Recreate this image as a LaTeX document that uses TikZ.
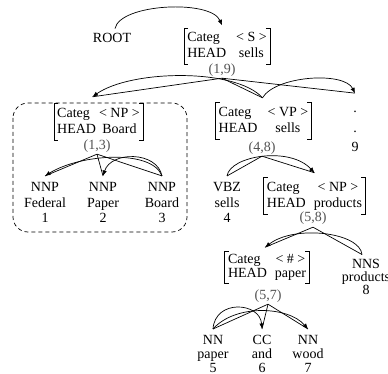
\documentclass[tikz,border=0pt]{standalone}
\usepackage{fontspec}
\setmainfont{Liberation Serif}
\usetikzlibrary{arrows.meta}
\newcommand\fsbox[3]{\begin{tabular}{@{}l@{\hspace{#1}}c@{}}Categ & #2\\HEAD & #3\end{tabular}}
\newcommand\leaftext[3]{\begin{tabular}[t]{@{}c@{}}#1\\#2\\#3\end{tabular}}
\newcommand\brackets[1]{%
  \draw[brk] ([xshift=4pt]#1.north west) -- (#1.north west) -- (#1.south west) -- ([xshift=4pt]#1.south west);
  \draw[brk] ([xshift=-4pt]#1.north east) -- (#1.north east) -- (#1.south east) -- ([xshift=-4pt]#1.south east);}
\begin{document}
\begin{tikzpicture}[x=1pt,y=-1pt,
  txt/.style={font=\fontsize{14}{16}\selectfont, inner sep=0pt},
  fs/.style={txt, inner xsep=3pt, inner ysep=2pt},
  leafnode/.style={inner sep=0pt, inner ysep=5pt, font=\fontsize{14}{15.5}\selectfont, anchor=base},
  span/.style={txt, text=black!68, anchor=base},
  tree/.style={line width=0.7pt},
  dep/.style={line width=0.7pt, -{Latex[length=5.5pt,width=4.5pt]}},
  brk/.style={line width=0.7pt},
  box/.style={line width=0.7pt, dash pattern=on 4pt off 3pt, rounded corners=15pt}]
\useasboundingbox (0,0) rectangle (388,374);

% nodes
\node[txt, anchor=base] (root) at (112,43) {ROOT};
\node[fs] (S) at (227,46.5) {\fsbox{10pt}{< S >}{sells}};
\node[span] (l19) at (222,74) {(1,9)};

\node[fs] (npb) at (98.5,122) {\fsbox{3pt}{< NP >}{Board}};
\node[span] (l13) at (97,150) {(1,3)};
\node[fs] (vp) at (263.5,121) {\fsbox{10pt}{< VP >}{sells}};
\node[span] (l48) at (262,152) {(4,8)};
\node[leafnode, font=\fontsize{14}{19.5}\selectfont] (dot) at (355,113) {\leaftext{.}{.}{9}};

\node[leafnode] (w1) at (45,192) {\leaftext{NNP}{Federal}{1}};
\node[leafnode] (w2) at (103,192) {\leaftext{NNP}{Paper}{2}};
\node[leafnode] (w3) at (162,192) {\leaftext{NNP}{Board}{3}};
\node[leafnode] (w4) at (227,192) {\leaftext{VBZ}{sells}{4}};
\node[fs] (npp) at (314.5,196) {\fsbox{8pt}{< NP >}{products}};
\node[span] (l58) at (313,222) {(5,8)};

\node[fs, font=\fontsize{14}{14}\selectfont] (hash) at (267,267.5) {\fsbox{8pt}{< \# >}{paper}};
\node[span] (l57) at (268,299) {(5,7)};
\node[leafnode, font=\fontsize{14}{12.8}\selectfont] (w8) at (366,268) {\leaftext{NNS}{products}{8}};

\node[leafnode, font=\fontsize{14}{14}\selectfont] (w5) at (213,344) {\leaftext{NN}{paper}{5}};
\node[leafnode, font=\fontsize{14}{14}\selectfont] (w6) at (262,344) {\leaftext{CC}{and}{6}};
\node[leafnode, font=\fontsize{14}{14}\selectfont] (w7) at (308,344) {\leaftext{NN}{wood}{7}};

% brackets
\brackets{S}
\brackets{npb}
\brackets{vp}
\brackets{npp}
\brackets{hash}

% dashed group
\draw[box] (13,103) rectangle (187,232);

% apex coordinates
\coordinate (a19) at ([yshift=-1pt]l19.south);
\coordinate (a13) at ([yshift=-1pt]l13.south);
\coordinate (a48) at ([yshift=-1pt]l48.south);
\coordinate (a58) at ([yshift=-2pt]l58.south);
\coordinate (a57) at ([yshift=-2pt]l57.south);
\coordinate (rootT) at ([xshift=3pt,yshift=5pt]root.north);
\coordinate (sT) at ([xshift=-5pt,yshift=3pt]S.north);
\coordinate (npbT) at ([xshift=-6pt,yshift=7pt]npb.north);
\coordinate (vpT) at ([xshift=-1pt,yshift=5pt]vp.north);
\coordinate (dotT) at ([yshift=1pt]dot.north);
\coordinate (nppT) at ([yshift=5pt]npp.north);
\coordinate (hashT) at ([xshift=-2pt,yshift=4pt]hash.north);
\coordinate (w8T) at ([xshift=-4pt,yshift=-1pt]w8.north);

% ROOT arc
\draw[dep] (rootT) .. controls +(5,-25) and +(-11,-26) .. (sT);

% (1,9)
\draw[tree] (a19) -- (npbT);
\draw[tree] (a19) -- (vpT);
\draw[tree] (a19) -- (dotT);
\draw[dep] (vpT) .. controls +(-27,-30) and +(38,-27) .. (npbT);
\draw[dep] (vpT) .. controls +(13,-22) and +(-11,-22) .. (dotT);

% (1,3)
\draw[tree] (a13) -- (w1.north);
\draw[tree] (a13) -- (w2.north);
\draw[tree] (a13) -- (w3.north);
\draw[dep] (w3.north) .. controls +(-10,-27) and +(35,-22) .. (w1.north);
\draw[dep] (w3.north) .. controls +(-5,-25) and +(8,-25) .. (w2.north);

% (4,8)
\draw[tree] (a48) -- (w4.north);
\draw[tree] (a48) -- (nppT);
\draw[dep] (w4.north) .. controls +(3,-20) and +(-25,-27) .. (nppT);

% (5,8)
\draw[tree] (a58) -- (hashT);
\draw[tree] (a58) -- (w8T);
\draw[dep] (w8T) .. controls +(-2,-22) and +(30,-23) .. (hashT);

% (5,7)
\draw[tree] (a57) -- (w5.north);
\draw[tree] (a57) -- (w6.north);
\draw[tree] (a57) -- (w7.north);
\draw[dep] (w5.north) .. controls +(2,-30) and +(-2,-27) .. (w6.north);
\draw[dep] (w5.north) .. controls +(22,-25) and +(-20,-23) .. (w7.north);
\end{tikzpicture}
\end{document}
